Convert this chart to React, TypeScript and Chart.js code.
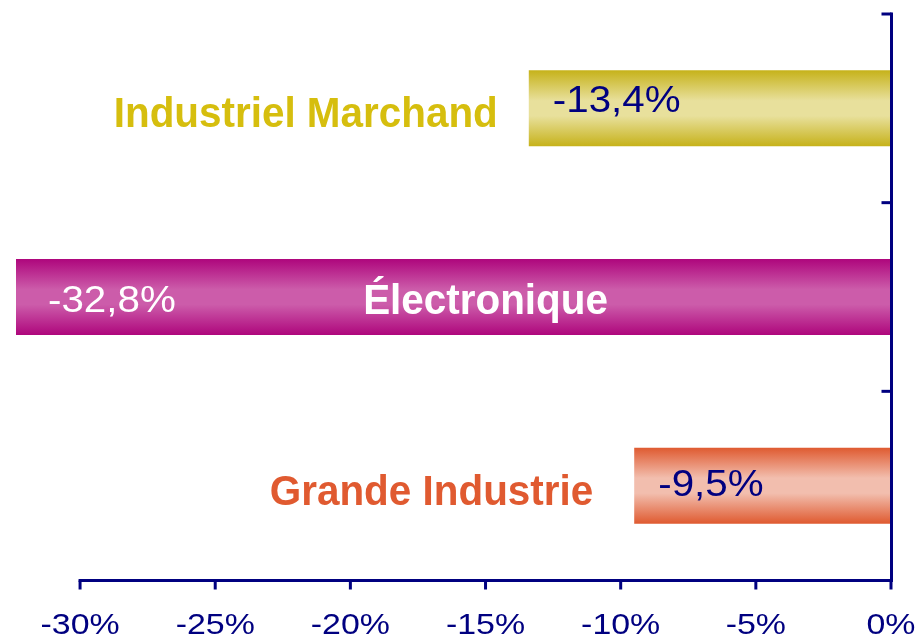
import React, { useEffect, useRef } from "react";
import { Chart, registerables } from "chart.js";
Chart.register(...registerables);

const categories = ["Industriel Marchand", "Électronique", "Grande Industrie"];
const values = [-13.4, -32.8, -9.5];
const valueLabels = ["-13,4%", "-32,8%", "-9,5%"];
const tickValues = [-30, -25, -20, -15, -10, -5, 0];
const tickLabels = ["-30%", "-25%", "-20%", "-15%", "-10%", "-5%", "0%"];

// styles
const NAVY = "#000080";
const barDark = ["#C6B21A", "#AE067C", "#DF5A30"];
const barLight = ["#E8E09C", "#CC5CAA", "#F2BEAE"];
const catColors = ["#D6BE0E", "#FFFFFF", "#E05A30"];
const valueColors = [NAVY, "#FFFFFF", NAVY];
const labelGap = [31, 0, 41];
const valueDy = [4, 15, 10];
const BAR_PCT = 0.403;
const FONT = "'Liberation Sans', Arial, sans-serif";

function drawScaledText(
  ctx: CanvasRenderingContext2D,
  text: string,
  x: number,
  y: number,
  font: string,
  sx: number,
  align: CanvasTextAlign,
  color: string
) {
  ctx.save();
  ctx.translate(x, y);
  ctx.scale(sx, 1);
  ctx.font = font;
  ctx.textAlign = align;
  ctx.textBaseline = "alphabetic";
  ctx.fillStyle = color;
  ctx.fillText(text, 0, 0);
  ctx.restore();
}

const decorPlugin = {
  id: "decor",
  afterDatasetsDraw(chart: any) {
    const ctx: CanvasRenderingContext2D = chart.ctx;
    const area = chart.chartArea;
    const xs = chart.scales.x;
    const ys = chart.scales.y;
    const n = categories.length;
    const catH = (area.bottom - area.top) / n;

    // labels
    for (let i = 0; i < n; i++) {
      const cy = ys.getPixelForValue(i);
      const barLeft = xs.getPixelForValue(values[i]);
      const vx = Math.max(barLeft, area.left + 8) + 24;
      drawScaledText(ctx, valueLabels[i], vx, cy + valueDy[i], `36px ${FONT}`, 1.12, "left", valueColors[i]);
      if (barLeft > area.left + 300) {
        drawScaledText(ctx, categories[i], barLeft - labelGap[i], cy + 19, `bold 43px ${FONT}`, 0.94, "right", catColors[i]);
      } else {
        const mid = xs.getPixelForValue((tickValues[0] + tickValues[tickValues.length - 1]) / 2);
        drawScaledText(ctx, categories[i], mid, cy + 17, `bold 43px ${FONT}`, 0.94, "center", catColors[i]);
      }
    }

    // axes
    ctx.save();
    ctx.strokeStyle = NAVY;
    ctx.lineWidth = 3;
    ctx.lineCap = "butt";
    const rx = area.right + 0.5;
    const by = area.bottom + 0.5;
    ctx.beginPath();
    ctx.moveTo(rx, area.top - 1.5);
    ctx.lineTo(rx, by + 1.5);
    ctx.stroke();
    for (let k = 0; k < n; k++) {
      const ty = area.top + k * catH;
      ctx.beginPath();
      ctx.moveTo(rx - 10, ty);
      ctx.lineTo(rx, ty);
      ctx.stroke();
    }
    const x0 = xs.getPixelForValue(tickValues[0]);
    ctx.beginPath();
    ctx.moveTo(x0 - 1.5, by);
    ctx.lineTo(rx, by);
    ctx.stroke();
    for (let t = 0; t < tickValues.length; t++) {
      const tx = xs.getPixelForValue(tickValues[t]);
      ctx.beginPath();
      ctx.moveTo(tx, by);
      ctx.lineTo(tx, by + 9);
      ctx.stroke();
      drawScaledText(ctx, tickLabels[t], tx, by + 53, `30px ${FONT}`, 1.13, "center", NAVY);
    }
    ctx.restore();
  },
};

export default function App() {
  const ref = useRef<HTMLCanvasElement>(null);
  useEffect(() => {
    if (!ref.current) return;
    const chart = new Chart(ref.current, {
      type: "bar",
      data: {
        labels: categories,
        datasets: [
          {
            data: values,
            clip: 0,
            borderWidth: 0,
            barPercentage: BAR_PCT,
            categoryPercentage: 1,
            backgroundColor: (c: any) => {
              const i = c.dataIndex;
              if (i === undefined) return barDark[0];
              const ch = c.chart;
              const ys = ch.scales.y;
              const area = ch.chartArea;
              if (!ys || !area) return barDark[i];
              const cy = ys.getPixelForValue(i);
              const half = ((area.bottom - area.top) / categories.length) * BAR_PCT / 2;
              const g = ch.ctx.createLinearGradient(0, cy - half, 0, cy + half);
              g.addColorStop(0, barDark[i]);
              g.addColorStop(0.4, barLight[i]);
              g.addColorStop(0.6, barLight[i]);
              g.addColorStop(1, barDark[i]);
              return g;
            },
          } as any,
        ],
      },
      options: {
        indexAxis: "y",
        animation: false,
        responsive: false,
        layout: { padding: { left: 16, right: 26, top: 14, bottom: 58 } },
        plugins: { legend: { display: false }, tooltip: { enabled: false } },
        scales: {
          x: { type: "linear", min: -32.37, max: 0, display: false },
          y: { type: "category", display: false, offset: true },
        },
      },
      plugins: [decorPlugin],
    });
    return () => chart.destroy();
  }, []);
  return (
    <div style={{ position: "fixed", left: 0, top: 0, width: 917, height: 638, background: "#fff" }}>
      <canvas ref={ref} width={917} height={638} style={{ display: "block" }} />
    </div>
  );
}
